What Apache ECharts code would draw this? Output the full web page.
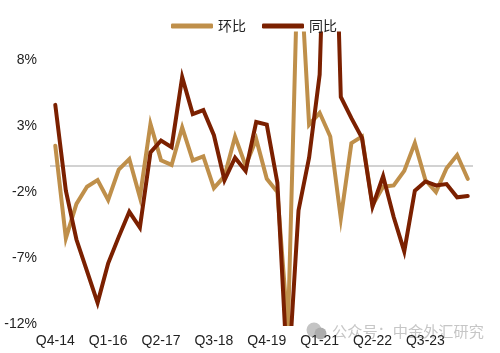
<!DOCTYPE html>
<html>
<head>
<meta charset="utf-8">
<style>
  html, body { margin: 0; padding: 0; background: #fff; }
  #chart { width: 500px; height: 353px; }
</style>
<script src="https://cdn.jsdelivr.net/npm/echarts@6/dist/echarts.min.js"></script>
</head>
<body>
<div id="chart"></div>
<script>
const quarters = [
  'Q4-14',
  'Q1-15', 'Q2-15', 'Q3-15', 'Q4-15',
  'Q1-16', 'Q2-16', 'Q3-16', 'Q4-16',
  'Q1-17', 'Q2-17', 'Q3-17', 'Q4-17',
  'Q1-18', 'Q2-18', 'Q3-18', 'Q4-18',
  'Q1-19', 'Q2-19', 'Q3-19', 'Q4-19',
  'Q1-20', 'Q2-20', 'Q3-20', 'Q4-20',
  'Q1-21', 'Q2-21', 'Q3-21', 'Q4-21',
  'Q1-22', 'Q2-22', 'Q3-22', 'Q4-22',
  'Q1-23', 'Q2-23', 'Q3-23', 'Q4-23',
  'Q1-24', 'Q2-24', 'Q3-24'
]

const qoq = [
  1.5, -5.5, -2.9, -1.6, -1.1, -2.6, -0.3, 0.5, -2.4, 3.15,
  0.4, 0.05, 2.9, 0.4, 0.7, -1.7, -0.8, 2.2, 0, 2.0,
  -1, -2.0, -12.5, 17.5, 3.1, 4.0, 2.2, -4.0, 1.7, 2.2,
  -3.0, -1.6, -1.5, -0.4, 1.7, -1.1, -2.0, -0.2, 0.8, -1.0
]

const yoy = [
  4.6, -1.9, -5.6, -8.0, -10.4, -7.4, -5.4, -3.5, -4.7, 1.0,
  1.9, 1.4, 6.7, 3.9, 4.2, 2.3, -1.1, 0.6, -0.4, 3.3,
  3.1, -1.3, -16.5, -3.4, 0.6, 6.9, 33, 5.2, 3.6, 2.1,
  -3.1, -0.8, -3.9, -6.5, -1.9, -1.2, -1.5, -1.4, -2.4, -2.3
]

const yTicks = [-12, -7, -2, 3, 8]

const labelFont = '"Liberation Sans", Arial, sans-serif'
const cjkFont = '"Noto Sans CJK SC", sans-serif'

function line(name, data, color, extra) {
  return {
    name,
    type: 'line',
    data,
    symbol: 'none',
    lineStyle: { color, width: 4, cap: 'round', join: 'miter' },
    itemStyle: { color },
    ...extra
  }
}

// 零轴灰线，压在两条折线下面
const zeroLine = {
  silent: true,
  symbol: 'none',
  z: 1,
  label: { show: false },
  lineStyle: { color: '#d2d2d2', width: 2, type: 'solid' },
  data: [{ yAxis: 0 }]
}

const chart = echarts.init(document.getElementById('chart'), null, { renderer: 'canvas' })

chart.setOption({
  animation: false,
  backgroundColor: '#fff',
  legend: {
    left: 171,
    top: 19,
    padding: 0,
    icon: 'roundRect',
    itemWidth: 42,
    itemHeight: 5,
    itemGap: 16,
    textStyle: { fontFamily: cjkFont, fontSize: 14, color: '#222' },
    data: ['环比', '同比']
  },
  grid: { left: 50, width: 423, top: 33.6, height: 290.4 },
  xAxis: {
    type: 'category',
    data: quarters,
    axisLine: { show: false },
    axisTick: { show: false },
    axisLabel: {
      interval: 4,
      margin: 10,
      fontFamily: labelFont,
      fontSize: 14,
      color: '#222'
    }
  },
  yAxis: {
    type: 'value',
    min: -12,
    max: 10,
    axisLine: { show: false },
    axisTick: { show: false },
    splitLine: { show: false },
    axisLabel: {
      customValues: yTicks,
      formatter: '{value}%',
      margin: 13,
      padding: [2, 0, 0, 0],
      fontFamily: labelFont,
      fontSize: 14,
      color: '#222'
    }
  },
  series: [
    line('环比', qoq, '#bf8f4a', { markLine: zeroLine }),
    line('同比', yoy, '#7b2000')
  ],
  graphic: [
    { type: 'circle', shape: { cx: 314, cy: 330, r: 7.5 }, style: { fill: '#c4c4c4' } },
    { type: 'circle', shape: { cx: 320.5, cy: 333.5, r: 6 }, style: { fill: '#adadad' } },
    {
      type: 'text',
      left: 332,
      top: 324,
      style: {
        text: '公众号：中金外汇研究',
        font: '15.2px "Noto Sans CJK SC", sans-serif',
        fill: '#c6c6c6'
      }
    }
  ]
})
</script>
</body>
</html>
